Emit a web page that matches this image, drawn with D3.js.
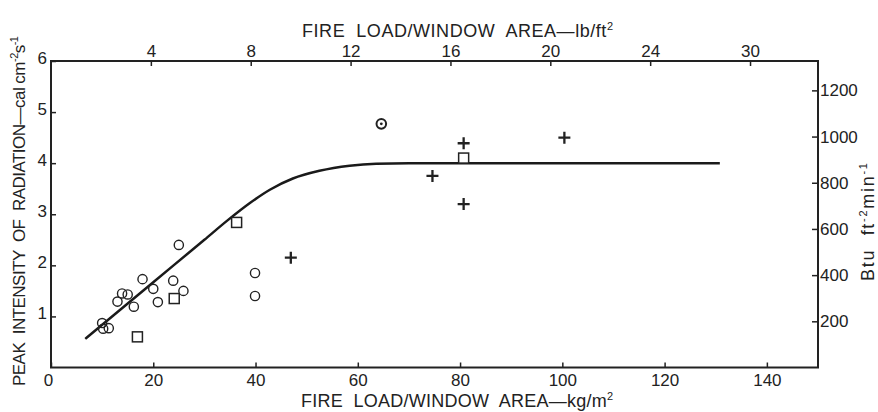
<html>
<head>
    <script src="https://d3js.org/d3.v7.min.js"></script>
    <style>
        body { margin: 0; background: #fff; }
        text { font-family: "Liberation Sans", Arial, sans-serif; fill: #222; white-space: pre; }
    </style>
</head>
<body>
<svg id="chart"></svg>
<script>

    // data (x in kg/m2, y in cal cm-2 s-1)
    var circleX = [25.0, 17.9, 20.0, 23.9, 25.9, 13.9, 15.0, 13.0, 16.2, 20.9, 10.0, 10.2, 11.3, 39.9, 39.9];
    var circleY = [2.40, 1.73, 1.54, 1.70, 1.50, 1.45, 1.43, 1.29, 1.19, 1.28, 0.87, 0.76, 0.77, 1.85, 1.40];
    var squareX = [16.9, 24.1, 36.3, 80.7];
    var squareY = [0.60, 1.35, 2.84, 4.10];
    var crossX = [46.9, 74.6, 80.7, 80.7, 100.4];
    var crossY = [2.15, 3.75, 4.39, 3.20, 4.50];
    var dotCircleX = [64.6];
    var dotCircleY = [4.77];
    var curveX = [6.7, 20, 30, 34.4, 38.9, 42.8, 47.3, 52.5, 58.4, 63.6, 70, 130.8];
    var curveY = [0.56, 1.67, 2.50, 2.87, 3.22, 3.48, 3.70, 3.85, 3.95, 3.99, 4.0, 4.0];

    var bottomTicks = [0, 20, 40, 60, 80, 100, 120, 140];
    var leftTicks = [1, 2, 3, 4, 5, 6];
    var topTicks = [4, 8, 12, 16, 20, 24, 28];
    var topTickLabels = ["4", "8", "12", "16", "20", "24", "30"];
    var rightTicks = [200, 400, 600, 800, 1000, 1200];

    var kgPerLb = 4.8824;   // kg/m2 per lb/ft2
    var btuPerCal = 221.2;  // Btu ft-2 min-1 per cal cm-2 s-1

    var W = 878, H = 412;
    var L = 51, R = 818, T = 61, B = 367.5;

    var svg = d3.select("#chart").attr("width", W).attr("height", H);

    var x = d3.scaleLinear().domain([0, 150]).range([L, R]);
    var y = d3.scaleLinear().domain([0, 6]).range([B, T]);
    var xTop = d3.scaleLinear().domain([0, 150 / kgPerLb]).range([L, R]);
    var yRight = d3.scaleLinear().domain([0, 6 * btuPerCal]).range([B, T]);

    function styleAxis(g) {
        g.select(".domain").remove();
        g.selectAll("line").attr("stroke", "#222").attr("stroke-width", 1.5);
        g.selectAll("text").attr("font-size", 17).attr("fill", "#222")
            .attr("font-family", "Liberation Sans, Arial, sans-serif");
    }

    /* ejes con ticks hacia dentro */
    svg.append("g").attr("transform", "translate(0," + B + ")")
        .call(d3.axisBottom(x).tickValues(bottomTicks).tickFormat(d3.format("d"))
            .tickSizeInner(-5).tickSizeOuter(0).tickPadding(6))
        .call(styleAxis)
        .selectAll("text").attr("dx", d => d === 0 ? -3 : 0);

    svg.append("g").attr("transform", "translate(" + L + ",0)")
        .call(d3.axisLeft(y).tickValues(leftTicks).tickFormat(d3.format("d"))
            .tickSizeInner(-5).tickSizeOuter(0).tickPadding(4))
        .call(styleAxis)
        .selectAll("text").attr("dy", "0.15em");

    svg.append("g").attr("transform", "translate(0," + T + ")")
        .call(d3.axisTop(xTop).tickValues(topTicks).tickFormat((d, i) => topTickLabels[i])
            .tickSizeInner(-5).tickSizeOuter(0).tickPadding(4))
        .call(styleAxis);

    svg.append("g").attr("transform", "translate(" + R + ",0)")
        .call(d3.axisRight(yRight).tickValues(rightTicks).tickFormat(d3.format("d"))
            .tickSizeInner(-6).tickSizeOuter(0).tickPadding(2))
        .call(styleAxis);

    // marco
    svg.append("rect")
        .attr("x", L).attr("y", T).attr("width", R - L).attr("height", B - T)
        .attr("fill", "none").attr("stroke", "#222").attr("stroke-width", 2);

    // curva
    var curvePts = curveX.map((v, i) => [v, curveY[i]]);
    svg.append("path")
        .datum(curvePts)
        .attr("d", d3.line().x(d => x(d[0])).y(d => y(d[1])).curve(d3.curveMonotoneX))
        .attr("fill", "none").attr("stroke", "#1a1a1a").attr("stroke-width", 2.5);

    // circulos abiertos
    svg.selectAll(".circ").data(circleX.map((v, i) => [v, circleY[i]])).enter()
        .append("circle").attr("class", "circ")
        .attr("cx", d => x(d[0])).attr("cy", d => y(d[1])).attr("r", 4.6)
        .attr("fill", "none").attr("stroke", "#222").attr("stroke-width", 1.4);

    // cuadrados
    svg.selectAll(".sq").data(squareX.map((v, i) => [v, squareY[i]])).enter()
        .append("rect").attr("class", "sq")
        .attr("x", d => x(d[0]) - 5).attr("y", d => y(d[1]) - 5)
        .attr("width", 10).attr("height", 10)
        .attr("fill", "#fff").attr("stroke", "#222").attr("stroke-width", 1.5);

    // cruces
    svg.selectAll(".cross").data(crossX.map((v, i) => [v, crossY[i]])).enter()
        .append("path").attr("class", "cross")
        .attr("d", d => {
            var cx = x(d[0]), cy = y(d[1]);
            return "M" + (cx - 6) + "," + cy + "H" + (cx + 6) + "M" + cx + "," + (cy - 6) + "V" + (cy + 6);
        })
        .attr("stroke", "#222").attr("stroke-width", 2.3);

    // circulo con punto
    var dc = svg.selectAll(".dotc").data(dotCircleX.map((v, i) => [v, dotCircleY[i]])).enter().append("g").attr("class", "dotc");
    dc.append("circle").attr("cx", d => x(d[0])).attr("cy", d => y(d[1])).attr("r", 4.8)
        .attr("fill", "none").attr("stroke", "#222").attr("stroke-width", 2);
    dc.append("circle").attr("cx", d => x(d[0])).attr("cy", d => y(d[1])).attr("r", 1.4).attr("fill", "#222");

    // titulos
    var topTitle = svg.append("text").attr("x", 302).attr("y", 37).attr("font-size", 18)
        .attr("textLength", 311).attr("lengthAdjust", "spacing");
    topTitle.append("tspan").text("FIRE  LOAD/WINDOW  AREA\u2014lb/ft");
    topTitle.append("tspan").attr("dy", -7).attr("font-size", 11).text("2");

    var botTitle = svg.append("text").attr("x", 301).attr("y", 407).attr("font-size", 18)
        .attr("textLength", 312).attr("lengthAdjust", "spacing");
    botTitle.append("tspan").text("FIRE  LOAD/WINDOW  AREA\u2014kg/m");
    botTitle.append("tspan").attr("dy", -7).attr("font-size", 11).text("2");

    var leftTitle = svg.append("text").attr("transform", "translate(25,386) rotate(-90)").attr("font-size", 17)
        .attr("textLength", 350).attr("lengthAdjust", "spacing");
    leftTitle.append("tspan").text("PEAK  INTENSITY  OF  RADIATION\u2014cal cm");
    leftTitle.append("tspan").attr("dy", -7).attr("font-size", 11).text("-2");
    leftTitle.append("tspan").attr("dy", 7).text("s");
    leftTitle.append("tspan").attr("dy", -7).attr("font-size", 11).text("-1");

    var rightTitle = svg.append("text").attr("transform", "translate(874,281) rotate(-90)").attr("font-size", 18)
        .attr("textLength", 118).attr("lengthAdjust", "spacing");
    rightTitle.append("tspan").text("Btu  ft");
    rightTitle.append("tspan").attr("dy", -7).attr("font-size", 11).text("-2");
    rightTitle.append("tspan").attr("dy", 7).text("min");
    rightTitle.append("tspan").attr("dy", -7).attr("font-size", 11).text("-1");

</script>
</body>
</html>
